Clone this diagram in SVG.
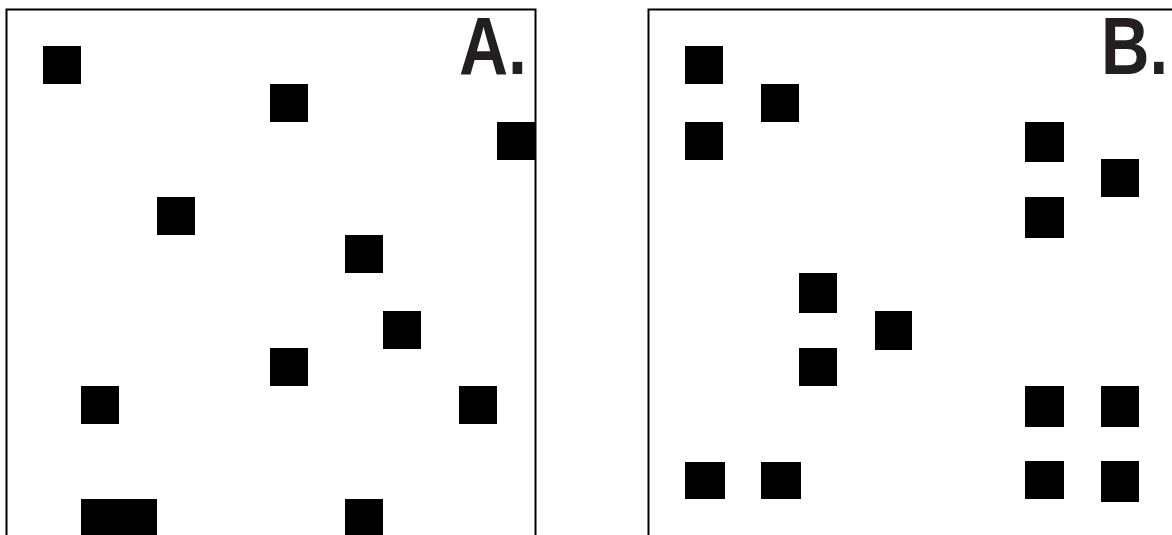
<svg xmlns="http://www.w3.org/2000/svg" width="1172" height="535" viewBox="0 0 1172 535">
<style>
.frame{fill:none;stroke:#000;stroke-width:2}
.sq{fill:#000}
.lbl{font-family:"Liberation Sans",Arial,sans-serif;font-weight:bold;font-size:82px;fill:#231f20}
</style>
<rect width="1172" height="535" fill="#fff"/>
<g id="panelA">
<rect class="frame" x="6.5" y="9.5" width="529" height="560"/>
<g class="sq">
<rect x="43" y="46" width="38" height="38"/>
<rect x="270" y="84" width="38" height="38"/>
<rect x="497" y="122" width="38" height="38"/>
<rect x="157" y="197" width="38" height="38"/>
<rect x="345" y="235" width="38" height="38"/>
<rect x="383" y="311" width="38" height="38"/>
<rect x="270" y="348" width="38" height="38"/>
<rect x="81" y="386" width="38" height="38"/>
<rect x="459" y="386" width="38" height="38"/>
<rect x="81" y="499" width="76" height="40"/>
<rect x="345" y="499" width="38" height="40"/>
</g>
<text class="lbl" x="459" y="73.5" textLength="68" lengthAdjust="spacingAndGlyphs">A.</text>
</g>
<g id="panelB">
<rect class="frame" x="648.5" y="9.5" width="560" height="560"/>
<g class="sq">
<rect x="685" y="46" width="38" height="38"/>
<rect x="761" y="84" width="38" height="38"/>
<rect x="685" y="122" width="38" height="38"/>
<rect x="1025" y="122" width="39" height="40"/>
<rect x="1101" y="159" width="38" height="38"/>
<rect x="1025" y="197" width="39" height="41"/>
<rect x="799" y="273" width="38" height="40"/>
<rect x="875" y="311" width="37" height="39"/>
<rect x="799" y="348" width="38" height="38"/>
<rect x="685" y="462" width="40" height="37"/>
<rect x="761" y="462" width="40" height="37"/>
<rect x="1025" y="386" width="39" height="41"/>
<rect x="1101" y="386" width="38" height="41"/>
<rect x="1025" y="461" width="39" height="38"/>
<rect x="1101" y="461" width="38" height="41"/>
</g>
<text class="lbl" x="1101" y="73.5" textLength="67" lengthAdjust="spacingAndGlyphs">B.</text>
</g>
</svg>
